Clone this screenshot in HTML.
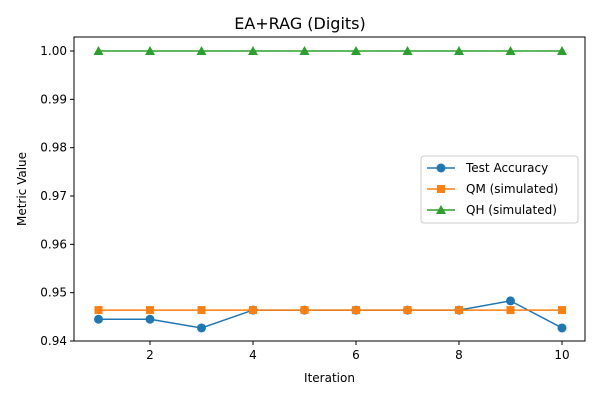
<!DOCTYPE html>
<html><head><meta charset="utf-8"><style>
body{margin:0;background:#fff;font-family:"Liberation Sans","DejaVu Sans",sans-serif;}
svg text{font-family:"DejaVu Sans","Liberation Sans",sans-serif;}
</style></head><body>
<svg id="chart" width="600" height="400" xmlns="http://www.w3.org/2000/svg"></svg>
<script>
const iterations=[1,2,3,4,5,6,7,8,9,10];
const testAccuracy=[0.9445,0.9445,0.9427,0.9464,0.9464,0.9464,0.9464,0.9464,0.9483,0.9427];
const qmValues=[0.9464,0.9464,0.9464,0.9464,0.9464,0.9464,0.9464,0.9464,0.9464,0.9464];
const qhValues=[1,1,1,1,1,1,1,1,1,1];
const xTicks=[2,4,6,8,10];
const yTicks=[0.94,0.95,0.96,0.97,0.98,0.99,1.00];
const yTickLabels=["0.94","0.95","0.96","0.97","0.98","0.99","1.00"];

const L=74,R=585,T=37,B=341;
const xs=v=>98.5+(v-1)*51.5;
const ys=v=>341-(v-0.94)/0.01*48.33;
const svg=document.getElementById('chart');
const NS='http://www.w3.org/2000/svg';
function mk(tag,attrs,parent){const e=document.createElementNS(NS,tag);for(const k in attrs)e.setAttribute(k,attrs[k]);(parent||svg).appendChild(e);return e;}

let t=mk('text',{x:300,y:29,'text-anchor':'middle','font-size':16,fill:'#000'});t.textContent='EA+RAG (Digits)';



const frame=mk('rect',{x:L,y:T,width:R-L,height:B-T,fill:'none',stroke:'#000','stroke-width':1});



xTicks.forEach(v=>{
  const x=xs(v);
  const tk=mk('line',{x1:x,x2:x,y1:B,y2:B+4,stroke:'#000'});
  
  
  const lb=mk('text',{x:x,y:B+18,'text-anchor':'middle','font-size':12});lb.textContent=v;
  
  
});
yTicks.forEach((v,i)=>{
  const y=ys(v);
  const tk=mk('line',{x1:L-4,x2:L,y1:y,y2:y,stroke:'#000'});
  
  
  const lb=mk('text',{x:L-7,y:y+4,'text-anchor':'end','font-size':12});lb.textContent=yTickLabels[i];
  
  
});
let xl=mk('text',{x:(L+R)/2,y:382,'text-anchor':'middle','font-size':12});xl.textContent='Iteration';


let yl=mk('text',{x:0,y:0,'text-anchor':'middle','font-size':12,transform:'translate(26,189) rotate(-90)'});yl.textContent='Metric Value';



function marker(g,shape,x,y,c){
  if(shape==='o')return mk('circle',{cx:x,cy:y,r:4.5,fill:c},g);
  if(shape==='s')return mk('rect',{x:x-4,y:y-4,width:8,height:8,fill:c},g);
  return mk('polygon',{points:`${x},${y-5} ${x-5},${y+4} ${x+5},${y+4}`,fill:c},g);
}
const series=[
 {name:'test-accuracy',vals:testAccuracy,c:'#1f77b4',m:'o',label:'Test Accuracy'},
 {name:'qm-simulated',vals:qmValues,c:'#ff7f0e',m:'s',label:'QM (simulated)'},
 {name:'qh-simulated',vals:qhValues,c:'#2ca02c',m:'^',label:'QH (simulated)'}];
series.forEach(s=>{
  const g=mk('g',{});
  
  
  const pl=mk('polyline',{points:iterations.map((x,i)=>xs(x)+','+ys(s.vals[i])).join(' '),fill:'none',stroke:s.c,'stroke-width':1.5},g);
  
  
  iterations.forEach((x,i)=>{const p=marker(g,s.m,xs(x),ys(s.vals[i]),s.c);
    
    });
});
const lg=mk('g',{});


mk('rect',{x:421,y:156,width:157,height:67,rx:3,fill:'#fff',stroke:'#ccc'},lg);
series.forEach((s,i)=>{
  const y=168+i*21;
  const e=mk('g',{},lg);
  
  
  mk('line',{x1:427,x2:455,y1:y,y2:y,stroke:s.c,'stroke-width':1.5},e);
  marker(e,s.m,441,y,s.c);
  const tx=mk('text',{x:466,y:y+4,'font-size':12},e);tx.textContent=s.label;
});
</script>
</body></html>
